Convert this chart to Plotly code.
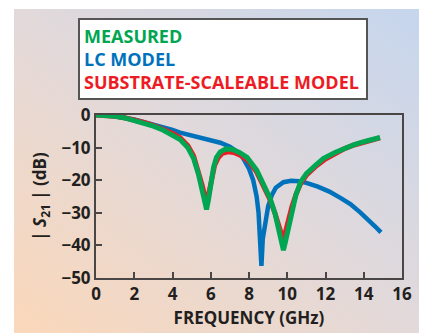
import plotly.graph_objects as go

# ---------------- data ----------------
meas_f = [0, 0.5, 1, 1.5, 2, 2.5, 3, 3.5, 4, 4.4, 4.8, 5.1, 5.35, 5.55, 5.7, 5.78, 5.88, 6.0, 6.15, 6.3,
          6.5, 6.8, 7.1, 7.5, 7.9, 8.4, 8.8, 9.1, 9.35, 9.55, 9.7, 9.8, 9.9, 10.05, 10.25, 10.45, 10.7,
          11, 11.5, 11.9, 12.5, 13.1, 13.5, 14, 14.5, 14.85]
meas_db = [0, -0.1, -0.4, -0.9, -1.6, -2.4, -3.4, -4.6, -6.0, -7.5, -10, -13.3, -18, -23, -27, -29, -26, -21,
           -16, -13, -11.3, -10.4, -10.5, -11.5, -13, -16.9, -21.5, -25.5, -30, -35, -39, -41.5, -39, -35,
           -29, -24.5, -20.5, -18, -15.3, -13.3, -11.5, -9.9, -9.1, -8.2, -7.4, -6.9]

sub_f = [0, 0.5, 1, 1.5, 2, 2.5, 3, 3.5, 4, 4.4, 4.8, 5.1, 5.35, 5.55, 5.7, 5.8, 5.9, 6.05, 6.2, 6.4,
         6.6, 6.9, 7.2, 7.6, 8.0, 8.4, 8.8, 9.1, 9.35, 9.55, 9.7, 9.8, 9.9, 10.05, 10.25, 10.45, 10.7,
         11, 11.5, 12, 12.5, 13, 13.5, 14, 14.5, 14.85]
sub_db = [0, -0.1, -0.4, -0.85, -1.5, -2.3, -3.2, -4.3, -5.6, -7.0, -9.4, -12.5, -17, -21.5, -25, -26.5,
          -24, -19, -15.5, -13, -11.8, -11.3, -11.5, -12.5, -14.3, -17.5, -22, -26, -30, -34, -37, -38.5,
          -36, -32, -28, -24.5, -21, -18.5, -15.7, -13.5, -11.7, -10.3, -9.2, -8.3, -7.5, -7.0]

lc_f = [0, 1, 2, 3, 4, 4.4, 5, 5.5, 6, 6.5, 7, 7.4, 7.7, 8.0, 8.22, 8.4, 8.5, 8.58, 8.65, 8.72, 8.84,
        9.0, 9.2, 9.4, 9.8, 10.2, 10.6, 11, 11.6, 12.2, 12.8, 13.3, 13.8, 14.2, 14.6, 14.9]
lc_db = [0, -0.4, -1.4, -2.9, -4.6, -5.4, -6.3, -7.0, -7.6, -8.5, -9.7, -11.3, -13.3, -16.5, -20, -25,
         -30, -37, -46.3, -38, -33, -28, -24.5, -22.3, -20.6, -20.2, -20.3, -20.8, -22, -23.5, -25.5,
         -27.3, -29.8, -31.8, -34.2, -36]

x_ticks = [0, 2, 4, 6, 8, 10, 12, 14, 16]
y_ticks = [0, -10, -20, -30, -40, -50]

GREEN = "#00A651"
BLUE = "#0072BC"
RED = "#ED1C24"
AXIS = "#4A4646"
TXT = "#231F20"
FONT = "Open Sans"

# page body has an 8px margin; the figure is sized to fill the rest of the window
OFF = 8
W, H = 427 - OFF, 333 - OFF
L, R, T, B = 96 - OFF, 25, 115 - OFF, 55
PW, PH = W - L - R, H - T - B

fig = go.Figure()
fig.add_trace(go.Scatter(x=lc_f, y=lc_db, mode="lines", line=dict(color=BLUE, width=4.5), showlegend=False))
fig.add_trace(go.Scatter(x=sub_f, y=sub_db, mode="lines", line=dict(color=RED, width=5), showlegend=False))
fig.add_trace(go.Scatter(x=meas_f, y=meas_db, mode="lines", line=dict(color=GREEN, width=5), showlegend=False))

# background gradient as an SVG image
svg = ("data:image/svg+xml;utf8,<svg xmlns='http://www.w3.org/2000/svg' width='100' height='100' "
       "preserveAspectRatio='none'><defs><linearGradient id='g' x1='0' y1='1' x2='1' y2='0'>"
       "<stop offset='0' stop-color='%23FBD8BA'/><stop offset='0.5' stop-color='%23E2D9DA'/>"
       "<stop offset='1' stop-color='%23C5D6EE'/></linearGradient></defs>"
       "<rect width='100' height='100' fill='url(%23g)'/></svg>")
gx0, gy0 = 14 - OFF, 9 - OFF
fig.add_layout_image(dict(source=svg, xref="paper", yref="paper",
                          x=(gx0 - L) / PW, y=(H - B - gy0) / PH,
                          sizex=(W - gx0) / PW, sizey=(H - gy0) / PH,
                          xanchor="left", yanchor="top", sizing="stretch", layer="below"))

legend_text = (f"<span style='color:{GREEN}'>MEASURED</span><br>"
               f"<span style='color:{BLUE}'>LC MODEL</span><br>"
               f"<span style='color:{RED}'>SUBSTRATE-SCALEABLE MODEL</span>")
fig.add_annotation(text=legend_text, xref="paper", yref="paper",
                   x=(78 - OFF - L) / PW, y=(H - B - (18 - OFF)) / PH, xanchor="left", yanchor="top",
                   showarrow=False, align="left", valign="middle",
                   width=278, height=70, borderpad=4, borderwidth=2, bordercolor="#555555",
                   bgcolor="white", font=dict(family=FONT, size=18, weight="bold"))

axis_common = dict(showline=True, linecolor=AXIS, linewidth=2, mirror=True, showgrid=False,
                   zeroline=False, ticks="inside", ticklen=6, tickwidth=2, tickcolor=AXIS,
                   tickfont=dict(family=FONT, size=17, color=TXT, weight="bold"))

fig.update_xaxes(range=[0, 16], tickvals=x_ticks, ticktext=[str(v) for v in x_ticks],
                 title=dict(text="FREQUENCY (GHz)", standoff=8,
                            font=dict(family=FONT, size=17, color=TXT, weight="bold")),
                 **axis_common)
fig.update_yaxes(range=[-50, 0], tickvals=y_ticks,
                 ticktext=[("\u2212" + str(-v)) if v < 0 else str(v) for v in y_ticks],
                 title=dict(text="| <i>S</i><sub>21</sub> | (dB)", standoff=10,
                            font=dict(family=FONT, size=17, color=TXT, weight="bold")),
                 **axis_common)

fig.update_layout(width=W, height=H, margin=dict(l=L, r=R, t=T, b=B, autoexpand=False),
                  paper_bgcolor="white", plot_bgcolor="white",
                  font=dict(family=FONT, color=TXT))

fig.write_html("out.html")
